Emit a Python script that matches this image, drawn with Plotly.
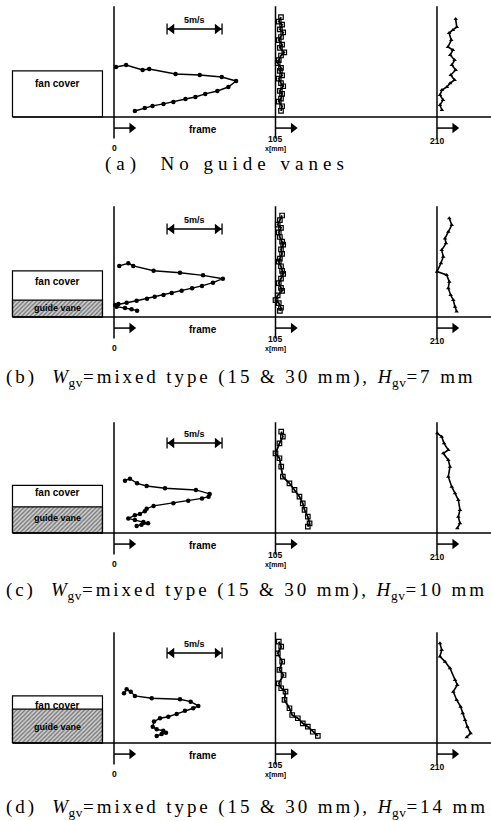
import plotly.graph_objects as go

# ---------------- data (velocity u [m/s] at height z above frame) ----------------
stations = [0, 105, 210]
station_labels = ["0", "105", "210"]

# panel (a) no guide vanes
z_a0 = [32.5, 33.8, 30.6, 31.2, 28.0, 27.3, 26.0, 23.4, 19.5, 16.9, 15.0, 13.0, 11.7, 9.75, 8.5, 7.2, 5.9, 3.9]
u_a0 = [0.18, 1.1, 2.6, 3.2, 5.6, 7.8, 9.8, 11.1, 10.4, 9.4, 8.3, 7.4, 6.5, 5.4, 4.5, 3.5, 2.8, 1.9]
z_a105 = [65, 62, 60, 57, 55, 52, 50, 47, 45, 42, 40, 37, 35, 32, 30, 27, 25, 22, 20, 17, 15, 12, 10, 7, 4]
u_a105 = [0.5, 0.3, 0.6, 0.4, 0.7, 0.5, 0.3, 0.6, 0.4, 0.8, 0.5, 0.3, 0.2, 0.5, 0.4, 0.6, 0.3, 0.5, 0.7, 0.4, 0.6, 0.5, 0.3, 0.6, 0.5]
z_a210 = [63.7, 58.5, 56.6, 54.6, 50.0, 45.5, 43.5, 40.3, 37.0, 33.8, 30.6, 27.3, 24.0, 22.0, 19.5, 17.5, 14.3, 11.0, 7.8, 4.5]
u_a210 = [1.7, 1.8, 1.45, 1.1, 1.3, 1.0, 1.45, 1.2, 1.6, 1.35, 1.7, 1.25, 1.6, 1.2, 0.9, 0.45, 0.27, 0.55, 0.27, 0.45]

# panel (b) Hgv = 7 mm
z_b0 = [33.2, 34.9, 33.2, 30.1, 28.8, 27.1, 24.9, 22.3, 20.2, 18.7, 17.1, 15.6, 14.3, 13.2, 11.9, 10.6, 9.3, 8.5, 7.8, 6.7, 5.85, 5.0, 4.1]
u_b0 = [0.48, 1.3, 1.75, 3.6, 6.0, 8.1, 9.9, 9.0, 8.0, 7.1, 6.15, 5.25, 4.5, 3.7, 3.0, 2.06, 1.15, 0.4, 0.1, 0.24, 1.0, 1.6, 2.1]
z_b105 = [66, 63, 60, 58, 55, 52, 49, 47, 44, 41, 38, 36, 33, 30, 28, 25, 22, 19, 17, 14, 11, 9, 6, 4]
u_b105 = [0.6, 0.4, 0.2, 0.5, 0.3, 0.4, 0.6, 0.7, 0.5, 0.6, 0.4, 0.3, 0.5, 0.6, 0.7, 0.5, 0.3, 0.5, 0.6, 0.2, 0.0, 0.3, 0.5, 0.4]
z_b210 = [64.2, 59.8, 55.4, 51.1, 47.9, 43.5, 39.2, 34.9, 29.5, 27.3, 23.0, 18.7, 14.3, 11.1, 6.7, 3.5]
u_b210 = [1.12, 1.34, 1.03, 0.73, 0.82, 0.43, 0.57, 0.36, 0.0, 0.88, 1.12, 1.03, 1.24, 1.48, 1.64, 1.79]

# panel (c) Hgv = 10 mm
z_c0 = [34.0, 35.3, 32.3, 30.6, 29.1, 28.0, 25.4, 23.6, 22.5, 21.0, 19.3, 17.6, 15.8, 14.1, 12.4, 11.5, 9.5, 8.5, 7.2, 6.3, 5.4, 4.6]
u_c0 = [1.0, 1.45, 2.1, 2.97, 4.64, 7.45, 8.7, 8.6, 8.0, 6.75, 5.4, 3.6, 2.97, 2.8, 2.36, 1.9, 1.3, 1.9, 2.67, 3.1, 2.5, 2.06]
z_c105 = [65.9, 62.6, 58.3, 51.8, 48.6, 43.1, 36.6, 32.3, 28.0, 23.6, 19.3, 15.0, 10.6, 6.3, 4.1]
u_c105 = [0.52, 0.67, 0.36, 0.0, 0.36, 0.52, 0.67, 1.27, 1.73, 2.18, 2.48, 2.64, 2.94, 3.1, 2.94]
z_c210 = [64.8, 62.6, 58.3, 54.0, 51.8, 47.5, 43.1, 36.6, 30.1, 25.8, 21.5, 15.0, 10.6, 6.3, 3.1]
u_c210 = [0.03, 0.43, 0.64, 1.03, 0.57, 1.03, 1.18, 1.03, 1.34, 1.64, 1.94, 2.09, 1.94, 2.09, 1.85]

# panel (d) Hgv = 14 mm
z_d0 = [32.3, 34.9, 33.4, 30.6, 29.1, 28.4, 26.9, 24.1, 22.6, 21.0, 18.9, 17.1, 16.1, 13.9, 10.6, 8.9, 8.0, 6.7, 5.85, 4.55]
u_d0 = [0.91, 1.15, 1.52, 1.9, 3.43, 6.0, 6.97, 7.67, 7.2, 6.45, 5.7, 4.94, 4.18, 3.64, 3.52, 3.88, 4.48, 4.73, 4.33, 3.88]
z_d105 = [65.9, 62.6, 58.3, 52.9, 47.5, 44.2, 38.8, 35.6, 33.4, 28.0, 22.6, 18.2, 16.1, 12.8, 10.6, 7.3, 4.6]
u_d105 = [0.3, 0.52, 0.21, 0.61, 0.36, 0.73, 0.3, 0.52, 0.91, 0.82, 1.27, 1.52, 2.03, 2.48, 2.94, 3.39, 3.85]
z_d210 = [64.8, 60.5, 56.2, 52.9, 48.6, 41.0, 37.7, 33.4, 28.0, 23.6, 19.3, 15.0, 10.6, 6.3, 3.8]
u_d210 = [0.27, 0.43, 0.27, 0.73, 1.18, 1.64, 1.85, 1.48, 1.79, 2.15, 2.34, 2.55, 2.76, 3.06, 2.7]

# drawn heights of fan cover / guide vane blocks per panel
fan_cover_height = [30, 30, 31, 30.6]
guide_vane_height = [0, 11, 17, 22]
fan_cover_x = [-66, -7.5]
scale_bar_ms = 5.0

captions = [
    "(a)\u00a0\u00a0No\u00a0guide\u00a0vanes",
    "(b)\u00a0\u00a0<i>W</i><sub>gv</sub>=mixed\u00a0type\u00a0(15\u00a0&amp;\u00a030\u00a0mm),\u00a0<i>H</i><sub>gv</sub>=7\u00a0mm",
    "(c)\u00a0\u00a0<i>W</i><sub>gv</sub>=mixed\u00a0type\u00a0(15\u00a0&amp;\u00a030\u00a0mm),\u00a0<i>H</i><sub>gv</sub>=10\u00a0mm",
    "(d)\u00a0\u00a0<i>W</i><sub>gv</sub>=mixed\u00a0type\u00a0(15\u00a0&amp;\u00a030\u00a0mm),\u00a0<i>H</i><sub>gv</sub>=14\u00a0mm",
]

panels = [
    (z_a0, u_a0, z_a105, u_a105, z_a210, u_a210),
    (z_b0, u_b0, z_b105, u_b105, z_b210, u_b210),
    (z_c0, u_c0, z_c105, u_c105, z_c210, u_c210),
    (z_d0, u_d0, z_d105, u_d105, z_d210, u_d210),
]

# ---------------- geometry / style ----------------
W, H = 491, 821
K = 1.538            # px per drawing unit
MM_PER_MS = 7.15     # drawing units per m/s
ORIGIN_PX = 114
frame_px = [117, 317, 533, 743]
bands = [(0, 185), (185, 400), (400, 612), (612, 821)]
scale_y = [57.2, 57.2, 58.5, 58.5]
caption_y = [-30.6, -39.7, -37.7, -42.3]
fan_label_y = [22, 22.8, 26.2, 24.7]
gv_label_y = [0, 5.8, 9.7, 10.4]

SANS = "Liberation Sans, Arial, sans-serif"
SERIF = "Liberation Serif, Times New Roman, serif"
BLACK = "black"

fig = go.Figure()
layout = dict(width=W, height=H, margin=dict(l=0, r=0, t=0, b=0),
              paper_bgcolor="white", plot_bgcolor="white", showlegend=False)
annotations = []
shapes = []

x_range = [-ORIGIN_PX / K, (W - ORIGIN_PX) / K]


def label(xa, ya, x, y, text, size, **kw):
    d = dict(x=x, y=y, xref=xa, yref=ya, text=text, showarrow=False,
             font=dict(family=SANS, size=size, color=BLACK))
    d.update(kw)
    annotations.append(d)


for i, data in enumerate(panels):
    n = "" if i == 0 else str(i + 1)
    xa, ya = "x" + n, "y" + n
    p0, p1 = bands[i]
    fy = frame_px[i]
    layout["xaxis" + n] = dict(domain=[0, 1], range=x_range, visible=False, fixedrange=True, anchor=ya)
    layout["yaxis" + n] = dict(domain=[1 - p1 / H, 1 - p0 / H], range=[(fy - p1) / K, (fy - p0) / K],
                               visible=False, fixedrange=True, anchor=xa)

    # guide vane hatched block
    gh = guide_vane_height[i]
    if gh > 0:
        fig.add_trace(go.Scatter(
            x=[fan_cover_x[0], fan_cover_x[1], fan_cover_x[1], fan_cover_x[0], fan_cover_x[0]],
            y=[0, 0, gh, gh, 0], xaxis=xa, yaxis=ya, mode="lines", fill="toself",
            fillcolor="rgba(0,0,0,0)",
            fillpattern=dict(shape="/", size=3, solidity=0.45, fgcolor="#222", bgcolor="#cfcfcf"),
            line=dict(color=BLACK, width=1.2), hoverinfo="skip"))
        label(xa, ya, (fan_cover_x[0] + fan_cover_x[1]) / 2, gv_label_y[i], "<b>guide vane</b>", 9)
    # fan cover box
    fh = fan_cover_height[i]
    fig.add_trace(go.Scatter(
        x=[fan_cover_x[0], fan_cover_x[1], fan_cover_x[1], fan_cover_x[0], fan_cover_x[0]],
        y=[0, 0, fh, fh, 0], xaxis=xa, yaxis=ya, mode="lines",
        line=dict(color=BLACK, width=1.2), hoverinfo="skip"))
    label(xa, ya, (fan_cover_x[0] + fan_cover_x[1]) / 2, fan_label_y[i], "<b>fan cover</b>", 10)

    # frame line
    shapes.append(dict(type="line", xref=xa, yref=ya, x0=fan_cover_x[0], x1=x_range[1] + 5, y0=0, y1=0,
                       line=dict(color=BLACK, width=1.5)))
    # station vertical lines, arrows, labels
    for s, lab in zip(stations, station_labels):
        shapes.append(dict(type="line", xref=xa, yref=ya, x0=s, x1=s, y0=-14, y1=72,
                           line=dict(color=BLACK, width=1.5)))
        fig.add_trace(go.Scatter(x=[s, s + 12], y=[-7.2, -7.2], xaxis=xa, yaxis=ya, mode="lines",
                                 line=dict(color=BLACK, width=1.5), hoverinfo="skip"))
        fig.add_trace(go.Scatter(x=[s + 11.5], y=[-7.2], xaxis=xa, yaxis=ya, mode="markers",
                                 marker=dict(symbol="triangle-right", size=9, color=BLACK), hoverinfo="skip"))
        if s == 0:
            label(xa, ya, s, -20.3, "<b>%s</b>" % lab, 8.5)
        elif s == 105:
            label(xa, ya, s, -14.4, "<b>%s</b>" % lab, 8.5)
            label(xa, ya, s, -20.9, "<b>x[mm]</b>", 7)
        else:
            label(xa, ya, s, -15.3, "<b>%s</b>" % lab, 8.5)
    label(xa, ya, 58, -7.8, "<b>frame</b>", 10)

    # 5 m/s scale bar
    sx0 = 34.5
    sx1 = sx0 + scale_bar_ms * MM_PER_MS
    sy = scale_y[i]
    for sx in (sx0, sx1):
        shapes.append(dict(type="line", xref=xa, yref=ya, x0=sx, x1=sx, y0=sy - 3.6, y1=sy + 3.6,
                           line=dict(color=BLACK, width=1.3)))
    fig.add_trace(go.Scatter(x=[sx0, sx1], y=[sy, sy], xaxis=xa, yaxis=ya, mode="lines",
                             line=dict(color=BLACK, width=1.5), hoverinfo="skip"))
    fig.add_trace(go.Scatter(x=[sx0 + 3.2, sx1 - 3.2], y=[sy, sy], xaxis=xa, yaxis=ya, mode="markers",
                             marker=dict(symbol=["triangle-left", "triangle-right"], size=9, color=BLACK),
                             hoverinfo="skip"))
    label(xa, ya, (sx0 + sx1) / 2, sy + 6.0, "<b>5m/s</b>", 9)

    # velocity profiles
    z0, u0, z1, u1, z2, u2 = data
    fig.add_trace(go.Scatter(x=[stations[0] + u * MM_PER_MS for u in u0], y=z0, xaxis=xa, yaxis=ya,
                             mode="lines+markers", line=dict(color=BLACK, width=1.4),
                             marker=dict(symbol="circle", size=4.5, color=BLACK)))
    fig.add_trace(go.Scatter(x=[stations[1] + u * MM_PER_MS for u in u1], y=z1, xaxis=xa, yaxis=ya,
                             mode="lines+markers", line=dict(color=BLACK, width=1.8),
                             marker=dict(symbol="square-open", size=4.5, color=BLACK,
                                         line=dict(width=1.2, color=BLACK))))
    fig.add_trace(go.Scatter(x=[stations[2] + u * MM_PER_MS for u in u2], y=z2, xaxis=xa, yaxis=ya,
                             mode="lines+markers", line=dict(color=BLACK, width=1.6),
                             marker=dict(symbol="triangle-up", size=4, color=BLACK)))

    # caption
    cx = (103 - ORIGIN_PX) / K if i == 0 else x_range[0] + 2.5
    annotations.append(dict(x=cx, y=caption_y[i], xref=xa, yref=ya, text=captions[i], showarrow=False,
                            xanchor="left", align="left", font=dict(family=SERIF, size=19, color=BLACK)))

layout["annotations"] = annotations
layout["shapes"] = shapes
fig.update_layout(**layout)

post = """
document.body.style.margin='0';
document.querySelectorAll('text.annotation-text').forEach(function(t){
  var s = t.textContent;
  if (s.indexOf('(a)') === 0) { t.style.letterSpacing = '5px'; }
  else if (/^\\([bcd]\\)/.test(s)) {
    t.style.letterSpacing = '2.9px';
    t.querySelectorAll('tspan').forEach(function(sp){
      if (sp.textContent === 'gv' || sp.textContent === 'W' || sp.textContent === 'H') { sp.style.letterSpacing = '0.6px'; }
    });
  }
});
"""
fig.write_html("out.html", config={"displayModeBar": False}, post_script=post)
